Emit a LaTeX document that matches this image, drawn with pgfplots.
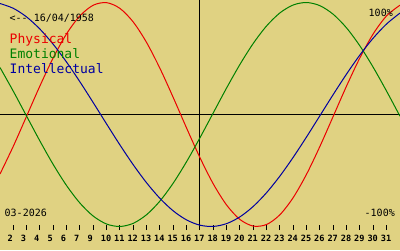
\documentclass[border=0pt]{standalone}
\usepackage{fontspec}
\setmainfont{DejaVu Sans Mono}
\usepackage{pgfplots}
\pgfplotsset{compat=1.18}
\definecolor{bg}{RGB}{224,210,130}
\definecolor{cred}{RGB}{235,0,0}
\definecolor{cgreen}{RGB}{0,128,0}
\definecolor{cblue}{RGB}{0,0,160}
\begin{document}
\begin{tikzpicture}
\fill[bg] (0,-20pt) rectangle (400pt,230pt);
\begin{axis}[
  at={(0,0)}, anchor=south west,
  scale only axis, width=400pt, height=230pt,
  xmin=0, xmax=30, ymin=-1.03125, ymax=1.0223,
  axis x line*=bottom, axis y line=none,
  x axis line style={draw=none},
  xtick={1,...,29},
  xticklabels={2,3,4,5,6,7,9,10,11,12,13,14,15,16,17,18,19,20,21,22,23,24,25,26,27,28,29,30,31},
  xtick align=inside, major tick length=5pt,
  tick style={black, line width=1pt},
  xticklabel style={anchor=base west, inner sep=0pt, xshift=-6pt, yshift=-11.5pt, font=\bfseries\fontsize{8.6}{8.6}\selectfont},
  clip=true,
]
\draw[black, line width=1pt] (axis cs:0,0) -- (axis cs:30,0);
\draw[black, line width=1pt] (axis cs:15,1.0223) -- (axis cs:15,-0.9866);
% Physical
\addplot[cred, line width=1pt, smooth, no markers] coordinates {
(0,-0.5312) (1,-0.2830) (2,-0.0137) (3,0.2566) (4,0.5079) (5,0.7217) (6,0.8815) (7,0.9762) (8,0.9985) (9,0.9468) (10,0.8249) (11,0.6417) (12,0.4109) (13,0.1497) (14,-0.1226) (15,-0.3858) (16,-0.6204) (17,-0.8090) (18,-0.9376) (19,-0.9966) (20,-0.9818) (21,-0.8942) (22,-0.7400) (23,-0.5313) (24,-0.2830) (25,-0.0138) (26,0.2565) (27,0.5078) (28,0.7216) (29,0.8815) (30,0.9762)};
% Emotional
\addplot[cgreen, line width=1pt, smooth, no markers] coordinates {
(0,0.4196) (1,0.2072) (2,-0.0157) (3,-0.2379) (4,-0.4481) (5,-0.6357) (6,-0.7915) (7,-0.9077) (8,-0.9783) (9,-0.9999) (10,-0.9713) (11,-0.8940) (12,-0.7720) (13,-0.6111) (14,-0.4196) (15,-0.2072) (16,0.0157) (17,0.2379) (18,0.4480) (19,0.6357) (20,0.7915) (21,0.9077) (22,0.9783) (23,0.9999) (24,0.9713) (25,0.8940) (26,0.7720) (27,0.6111) (28,0.4196) (29,0.2072) (30,-0.0157)};
% Intellectual
\addplot[cblue, line width=1pt, smooth, no markers] coordinates {
(0,0.9911) (1,0.9480) (2,0.8707) (3,0.7618) (4,0.6256) (5,0.4667) (6,0.2909) (7,0.1045) (8,-0.0856) (9,-0.2726) (10,-0.4498) (11,-0.6107) (12,-0.7494) (13,-0.8613) (14,-0.9418) (15,-0.9884) (16,-0.9993) (17,-0.9740) (18,-0.9135) (19,-0.8200) (20,-0.6969) (21,-0.5486) (22,-0.3805) (23,-0.1986) (24,-0.0095) (25,0.1799) (26,0.3628) (27,0.5326) (28,0.6832) (29,0.8090) (30,0.9056)};
\end{axis}
\node[anchor=base west, inner sep=0pt, font=\fontsize{10}{10}\selectfont] at (9.5pt,209pt) {<-{}- 16/04/1958};
\node[anchor=base west, inner sep=0pt, text=cred, font=\fontsize{13}{13}\selectfont] at (9.5pt,187pt) {Physical};
\node[anchor=base west, inner sep=0pt, text=cgreen, font=\fontsize{13}{13}\selectfont] at (9.5pt,172pt) {Emotional};
\node[anchor=base west, inner sep=0pt, text=cblue, font=\fontsize{13}{13}\selectfont] at (9.5pt,157pt) {Intellectual};
\node[anchor=base east, inner sep=0pt, font=\fontsize{10}{10}\selectfont] at (393pt,214pt) {100\%};
\node[anchor=base east, inner sep=0pt, font=\fontsize{10}{10}\selectfont] at (395pt,14pt) {-100\%};
\node[anchor=base west, inner sep=0pt, font=\fontsize{10}{10}\selectfont] at (4.5pt,14pt) {03-2026};
\end{tikzpicture}
\end{document}
